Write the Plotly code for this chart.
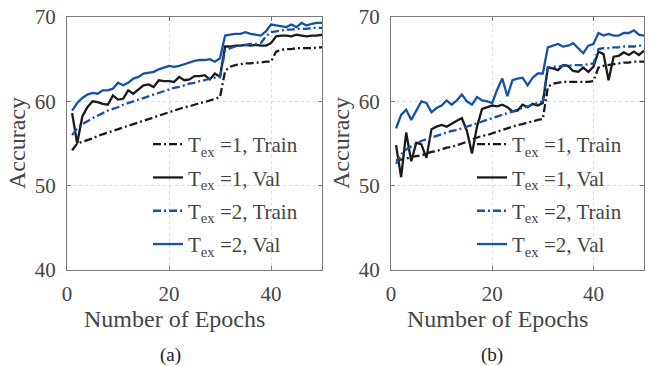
import plotly.graph_objects as go

epochs = list(range(1, 51))

# Panel (a)
a_train1 = [54.2, 55.0, 55.2, 55.4, 55.6, 55.9, 56.1, 56.3, 56.5, 56.7,
            56.9, 57.1, 57.3, 57.5, 57.7, 57.9, 58.1, 58.3, 58.5, 58.7,
            58.9, 59.1, 59.3, 59.4, 59.6, 59.8, 59.9, 60.1, 60.3, 60.5,
            63.6, 64.1, 64.3, 64.4, 64.5, 64.5, 64.6, 64.6, 64.7, 64.7,
            65.9, 66.1, 66.2, 66.2, 66.3, 66.3, 66.3, 66.3, 66.4, 66.4]
a_val1 = [58.6, 55.0, 58.2, 59.3, 60.0, 59.9, 59.7, 59.6, 60.7, 60.2,
          60.3, 61.3, 60.9, 61.4, 61.9, 62.0, 61.7, 62.5, 62.4, 62.4,
          62.3, 62.9, 62.5, 62.6, 63.0, 63.0, 63.1, 62.6, 63.3, 62.9,
          66.5, 66.5, 66.6, 66.6, 66.7, 66.6, 66.7, 66.6, 66.6, 66.9,
          67.7, 67.8, 67.8, 67.7, 67.9, 67.8, 67.7, 67.8, 67.8, 67.9]
a_train2 = [56.0, 56.8, 57.3, 57.7, 58.0, 58.3, 58.6, 58.9, 59.1, 59.3,
            59.6, 59.8, 60.0, 60.2, 60.4, 60.6, 60.8, 61.0, 61.2, 61.4,
            61.6, 61.7, 61.9, 62.1, 62.2, 62.4, 62.5, 62.7, 62.8, 62.9,
            66.0, 66.3, 66.5, 66.6, 66.7, 66.8, 66.8, 66.9, 67.7, 68.2,
            68.3, 68.4, 68.5, 68.5, 68.6, 68.6, 68.6, 68.7, 68.7, 68.7]
a_val2 = [58.9, 59.8, 60.4, 60.8, 61.0, 60.9, 61.3, 61.3, 61.5, 62.2,
          61.9, 62.2, 62.7, 62.9, 63.3, 63.4, 63.5, 63.8, 64.0, 64.2,
          64.1, 64.2, 64.4, 64.6, 64.8, 64.9, 64.9, 65.0, 64.7, 65.1,
          67.8, 67.9, 68.0, 68.0, 68.2, 68.0, 67.9, 67.8, 68.3, 69.1,
          69.0, 68.9, 68.8, 69.1, 68.8, 69.3, 69.0, 69.2, 69.3, 69.3]

# Panel (b)
b_train1 = [53.0, 53.1, 53.2, 53.4, 53.5, 53.6, 53.8, 54.0, 54.1, 54.3,
            54.5, 54.6, 54.8, 55.0, 55.2, 55.5, 55.7, 55.9, 56.0, 56.2,
            56.4, 56.6, 56.8, 57.0, 57.2, 57.3, 57.5, 57.6, 57.8, 57.9,
            61.7, 62.1, 62.2, 62.3, 62.3, 62.3, 62.3, 62.3, 62.3, 62.4,
            64.0, 64.2, 64.3, 64.4, 64.5, 64.6, 64.6, 64.7, 64.7, 64.7]
b_val1 = [54.8, 51.0, 56.3, 52.9, 55.1, 54.9, 53.3, 56.7, 57.0, 57.2,
          57.0, 57.4, 57.7, 58.0, 56.5, 53.8, 57.0, 59.1, 59.3, 59.5,
          59.4, 59.6, 59.3, 58.8, 58.9, 59.6, 59.3, 59.7, 59.5, 59.8,
          64.0, 63.9, 63.7, 64.3, 64.2, 63.6, 63.5, 64.0, 63.5, 64.1,
          65.9, 65.6, 62.5, 65.3, 65.4, 65.8, 65.5, 65.9, 65.5, 66.0]
b_train2 = [52.6, 53.7, 54.3, 54.7, 55.0, 55.3, 55.5, 55.7, 55.9, 56.1,
            56.3, 56.5, 56.6, 56.8, 57.0, 57.2, 57.4, 57.6, 57.8, 58.0,
            58.2, 58.4, 58.6, 58.8, 59.0, 59.2, 59.4, 59.6, 59.8, 60.0,
            64.0, 64.1, 64.1, 64.2, 64.2, 64.3, 64.3, 64.3, 64.4, 64.5,
            66.2, 66.3, 66.3, 66.4, 66.4, 66.5, 66.5, 66.5, 66.6, 66.6]
b_val2 = [56.8, 58.4, 59.0, 57.8, 58.9, 60.0, 59.8, 58.7, 59.2, 59.5,
          60.1, 59.6, 60.1, 60.8, 60.0, 59.6, 60.5, 60.1, 60.0, 59.8,
          61.4, 62.7, 60.6, 62.5, 62.7, 62.8, 61.9, 62.8, 63.3, 63.3,
          66.4, 66.6, 66.8, 66.5, 66.6, 66.9, 66.3, 65.7, 66.6, 66.8,
          68.1, 67.8, 68.0, 67.8, 67.8, 68.1, 68.1, 68.4, 67.9, 67.8]

series_names = ["T<sub>ex</sub> =1, Train", "T<sub>ex</sub> =1, Val",
                "T<sub>ex</sub> =2, Train", "T<sub>ex</sub> =2, Val"]
x_ticks = [0, 20, 40]
y_ticks = [40, 50, 60, 70]

BLACK = "#1a1a1a"
BLUE = "#1551a8"
DASHDOT = "8px,3px,2px,3px"
FONT = "Liberation Serif, Times New Roman, serif"
TXT = "#454545"

W, H = 650, 366


def px(x):
    return x / W


def py(y):
    return 1 - y / H


fig = go.Figure()

panels = [
    ("x", "y", "legend", "a", [a_train1, a_val1, a_train2, a_val2]),
    ("x2", "y2", "legend2", "b", [b_train1, b_val1, b_train2, b_val2]),
]
styles = [(BLACK, DASHDOT), (BLACK, "solid"), (BLUE, DASHDOT), (BLUE, "solid")]
for xa, ya, lg, tag, data in panels:
    for i, (name, vals, (col, dash)) in enumerate(zip(series_names, data, styles)):
        fig.add_trace(go.Scatter(
            x=epochs, y=vals, mode="lines", name=name,
            line=dict(color=col, width=2.3, dash=dash),
            xaxis=xa, yaxis=ya, legend=lg, legendgroup=f"{tag}{i}",
            showlegend=True))


def common_axis():
    return dict(showline=True, linecolor="#7a7a7a", linewidth=1, mirror="ticks",
                ticks="inside", ticklen=4, tickcolor="#7a7a7a",
                showgrid=True, gridcolor="#dcdcdc", griddash="dot", gridwidth=1,
                zeroline=False, automargin=False, ticklabeloverflow="allow",
                tickfont=dict(family=FONT, size=21, color=TXT))


def xax(domain, anchor):
    d = common_axis()
    d.update(domain=domain, anchor=anchor, range=[0, 50], tickvals=x_ticks,
             ticklabelstandoff=5)
    return d


def yax(domain, anchor):
    d = common_axis()
    d.update(domain=domain, anchor=anchor, range=[40, 70], tickvals=y_ticks,
             ticklabelstandoff=6)
    return d


ydom = [py(270), py(17)]
legend_style = dict(font=dict(family=FONT, size=21, color=TXT),
                    bgcolor="rgba(0,0,0,0)", borderwidth=0,
                    xanchor="left", yanchor="top", itemwidth=30,
                    tracegroupgap=3, traceorder="grouped",
                    y=py(124))

annotations = []
for cx_label, cx_acc, cx_panel, tag in [(174, 17, 170, "(a)"), (497, 341, 492, "(b)")]:
    annotations.append(dict(text="Number of Epochs", x=px(cx_label), y=py(319),
                            xref="paper", yref="paper", showarrow=False,
                            xanchor="center", yanchor="middle",
                            font=dict(family=FONT, size=24, color=TXT)))
    annotations.append(dict(text="Accuracy", x=px(cx_acc), y=py(143),
                            xref="paper", yref="paper", showarrow=False, textangle=-90,
                            xanchor="center", yanchor="middle",
                            font=dict(family=FONT, size=24, color=TXT)))
    annotations.append(dict(text=tag, x=px(cx_panel), y=py(355),
                            xref="paper", yref="paper", showarrow=False,
                            xanchor="center", yanchor="middle",
                            font=dict(family=FONT, size=19, color="#222222")))

fig.update_layout(
    width=W, height=H,
    margin=dict(l=0, r=0, t=0, b=0),
    paper_bgcolor="white", plot_bgcolor="white",
    template="none",
    xaxis=xax([px(67), px(322)], "y"),
    yaxis=yax(ydom, "x"),
    xaxis2=xax([px(391), px(644)], "y2"),
    yaxis2=yax(ydom, "x2"),
    legend=dict(legend_style, x=px(148)),
    legend2=dict(legend_style, x=px(472)),
    annotations=annotations,
)

# remove the default 8px page margin so the figure fills the window exactly
fig.write_html("out.html", config={"displayModeBar": False},
               post_script="document.body.style.margin='0';")
